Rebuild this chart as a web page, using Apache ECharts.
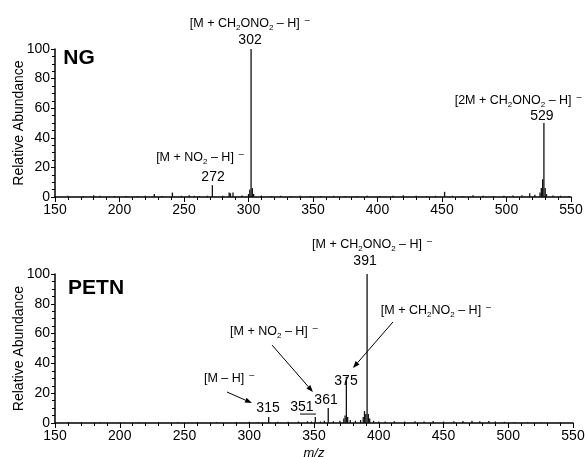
<!DOCTYPE html>
<html><head><meta charset="utf-8">
<script src="https://cdn.jsdelivr.net/npm/echarts@6/dist/echarts.min.js"></script>
<style>html,body{margin:0;padding:0;background:#fff}#c{width:585px;height:457px}</style>
</head><body><div id="c"></div>
<script>
// ---- data ----
const ngMz = [160,172,180,185,196,205,214,220,227,233,241,248,254,258,262,268,272,280,285,286,288,295,300,301,302,303,304,310,318,325,333,340,348,356,366,375,384,392,402,412,420,430,438,445,452,458,466,474,482,490,498,505,512,518,522,526,527,528,529,530,531,536,542,548];
const ngAb = [0.8,0.6,1.2,0.8,0.6,0.7,0.6,0.8,2.0,0.7,3.0,0.8,1.2,0.8,0.6,0.8,8,0.8,3,2.5,3,1,2,5,100,6,2,1,0.7,0.8,0.6,0.8,0.7,0.6,0.8,0.7,0.6,0.9,0.7,0.8,1.2,0.8,0.7,0.8,3.5,0.8,0.7,1.2,0.8,0.7,0.8,1,1.2,2.5,1.5,3,6,12,50,6,2,1,0.8,0.6];
const petnMz = [160,170,185,200,215,230,245,260,275,290,300,307,315,322,330,338,345,348,351,355,358,361,365,370,373,374,375,376,378,382,386,388,389,390,391,392,393,396,400,405,412,420,428,435,442,450,458,465,472,478,485,490,497,505,515,525,540];
const petnAb = [0.5,0.4,0.5,0.4,0.5,0.4,0.5,0.6,0.5,0.6,0.8,0.6,4,0.8,0.8,1,1.2,1,4,1,1.5,10,1.2,1.5,3,5,31,4,2,1.5,2,4,8,6,100,6,3,1.5,1,1,1.2,1,1.2,1,1.3,1,1.2,1.4,1.5,1.2,1.3,1,0.8,0.6,0.5,0.4,0.4];
const xMin = 150, xMax = 550, xStep = 50;
const yMin = 0, yMax = 100, yStep = 20;
const panelTitles = ['NG', 'PETN'];

// annotation texts anchored in data coordinates [m/z, abundance]
const ngNotes = [
  {t:'{n|[M + CH}{s|2}{n|ONO}{s|2}{n| – H]}{p|  –}', at:[301,117]},
  {t:'{v|302}', at:[301.2,106]},
  {t:'{n|[M + NO}{s|2}{n| – H]}{p|  –}', at:[262.4,26.4]},
  {t:'{v|272}', at:[272.5,13.5]},
  {t:'{n|[2M + CH}{s|2}{n|ONO}{s|2}{n| – H]}{p|  –}', at:[509,64.9]},
  {t:'{v|529}', at:[527.5,54.7]}
];
const petnNotes = [
  {t:'{n|[M + CH}{s|2}{n|ONO}{s|2}{n| – H]}{p|  –}', at:[394.8,119.5]},
  {t:'{v|391}', at:[389.4,108.7]},
  {t:'{n|[M + CH}{s|2}{n|NO}{s|2}{n| – H]}{p|  –}', at:[444.2,75.2]},
  {t:'{v|375}', at:[374.7,28.2]},
  {t:'{n|[M + NO}{s|2}{n| – H]}{p|  –}', at:[319.1,61.1]},
  {t:'{v|361}', at:[359.3,15.4]},
  {t:'{v|351}', at:[340.7,10.7]},
  {t:'{v|315}', at:[314.5,10.1]},
  {t:'{n|[M – H]}{p|  –}', at:[284.4,29.5]}
];
const petnArrows = [
  {from:[282.8,20.8], to:[302.1,13.4]},
  {from:[317.6,52.3], to:[349.2,20.8]},
  {from:[411,67.8], to:[380.1,36.9]}
];
const petnUnderline = {from:[339.2,6], to:[351.5,6]};
const titleAt = [[168.6,94],[181.7,90.6]];

// ---- chart ----
const FF = '"Liberation Sans", Arial, sans-serif';
const chart = echarts.init(document.getElementById('c'), null, {renderer:'canvas'});
const grids = [
  {left:55, right:14, top:49, bottom:260, containLabel:false, outerBoundsMode:'none'},
  {left:55, right:12, top:274, bottom:34, containLabel:false, outerBoundsMode:'none'}
];
function xAx(i){
  return {type:'value', gridIndex:i, min:xMin, max:xMax, interval:xStep,
    name: i===1 ? 'm/z' : '', nameLocation:'middle', nameGap:24, nameMoveOverlap:false,
    nameTextStyle:{fontFamily:FF, fontSize:13, fontStyle:'italic', color:'#000'},
    axisLine:{show:true, onZero:false, lineStyle:{color:'#000', width:1.5}},
    axisTick:{show:true, length:5, lineStyle:{color:'#000', width:1}},
    minorTick:{show:true, splitNumber:5, length:3, lineStyle:{color:'#000', width:1}},
    axisLabel:{color:'#000', fontSize:14, fontFamily:FF, margin:6},
    splitLine:{show:false}};
}
function yAx(i){
  return {type:'value', gridIndex:i, min:yMin, max:yMax, interval:yStep,
    name:'Relative Abundance', nameLocation:'middle', nameGap:29, nameMoveOverlap:false,
    nameTextStyle:{fontFamily:FF, fontSize:14, color:'#000'},
    axisLine:{show:true, onZero:false, lineStyle:{color:'#000', width:1.5}},
    axisTick:{show:true, length:4, lineStyle:{color:'#000', width:1}},
    minorTick:{show:true, splitNumber:4, length:3, lineStyle:{color:'#000', width:1}},
    axisLabel:{color:'#000', fontSize:14, fontFamily:FF, margin:5},
    splitLine:{show:false}};
}
chart.setOption({
  animation:false,
  backgroundColor:'#fff',
  grid:grids,
  xAxis:[xAx(0), xAx(1)],
  yAxis:[yAx(0), yAx(1)],
  series:[
    {type:'bar', xAxisIndex:0, yAxisIndex:0, barWidth:1.3, itemStyle:{color:'#111'},
     data: ngMz.map((m,i)=>[m, ngAb[i]])},
    {type:'bar', xAxisIndex:1, yAxisIndex:1, barWidth:1.3, itemStyle:{color:'#111'},
     data: petnMz.map((m,i)=>[m, petnAb[i]])}
  ]
});

const rich = {
  n:{fontFamily:FF, fontSize:12.5, color:'#000', lineHeight:16, verticalAlign:'middle'},
  s:{fontFamily:FF, fontSize:8, color:'#000', lineHeight:9, verticalAlign:'bottom'},
  p:{fontFamily:FF, fontSize:9, color:'#000', lineHeight:9, verticalAlign:'top'},
  v:{fontFamily:FF, fontSize:14, color:'#000', lineHeight:16, verticalAlign:'middle'}
};
function px(gi, pt){ return chart.convertToPixel({gridIndex:gi}, pt); }
const els = [];
function addNotes(gi, notes){
  notes.forEach(n=>{
    const p = px(gi, n.at);
    els.push({type:'text', x:p[0], y:p[1], silent:true,
      style:{text:n.t, rich:rich, align:'center', verticalAlign:'middle',
             textAlign:'center', textVerticalAlign:'middle', fill:'#000'}});
  });
}
addNotes(0, ngNotes);
addNotes(1, petnNotes);
titleAt.forEach((a,gi)=>{
  const p = px(gi, a);
  els.push({type:'text', x:p[0], y:p[1], silent:true,
    style:{text:panelTitles[gi], fontFamily:FF, fontSize:21, fontWeight:'bold', fill:'#000',
           align:'center', verticalAlign:'middle', textAlign:'center', textVerticalAlign:'middle'}});
});
petnArrows.forEach(a=>{
  const p1 = px(1, a.from), p2 = px(1, a.to);
  const dx = p2[0]-p1[0], dy = p2[1]-p1[1], L = Math.hypot(dx,dy);
  const ux = dx/L, uy = dy/L, hl = 7, hw = 2.6;
  const bx = p2[0]-ux*hl, by = p2[1]-uy*hl;
  els.push({type:'line', silent:true, shape:{x1:p1[0], y1:p1[1], x2:bx, y2:by},
    style:{stroke:'#000', lineWidth:1}});
  els.push({type:'polygon', silent:true, shape:{points:[[p2[0],p2[1]],[bx-uy*hw, by+ux*hw],[bx+uy*hw, by-ux*hw]]},
    style:{fill:'#000'}});
});
{
  const p1 = px(1, petnUnderline.from), p2 = px(1, petnUnderline.to);
  els.push({type:'line', silent:true, shape:{x1:p1[0], y1:p1[1], x2:p2[0], y2:p2[1]},
    style:{stroke:'#000', lineWidth:1}});
}
chart.setOption({graphic:{elements:els}});
</script>
</body></html>
